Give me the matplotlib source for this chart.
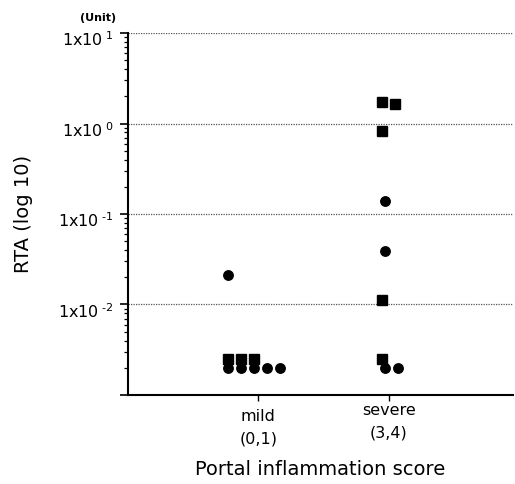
import numpy as np
import matplotlib
matplotlib.use("Agg")
import matplotlib.pyplot as plt
import matplotlib.transforms as mtrans
from matplotlib.ticker import FixedLocator, LogLocator, NullFormatter

# ---------------------------------------------------------------------------
# Daten
# ---------------------------------------------------------------------------
kategorien = ["mild\n(0,1)", "severe\n(3,4)"]
kat_pos = [1, 2]

mild_kreise = [0.021, 0.002, 0.002, 0.002, 0.002, 0.002]
mild_quadrate = [0.0025, 0.0025, 0.0025]
severe_kreise = [0.139, 0.0388, 0.002, 0.002]
severe_quadrate = [1.73, 1.64, 0.82, 0.0111, 0.0025]

y_ticks = [1e-3, 1e-2, 1e-1, 1e0, 1e1]
y_tick_labels = ["", r"1x10$^{\,\,\text{-}2}$", r"1x10$^{\,\,\text{-}1}$",
                 r"1x10$^{\,\,0}$", r"1x10$^{\,\,1}$"]


def _dodge(werte, mitte, start, schritt=0.1):
    """Gleiche Werte nebeneinander legen (Punkte nach rechts versetzt)."""
    xs = []
    for i, w in enumerate(werte):
        k = sum(1 for v in werte[:i] if abs(np.log10(v) - np.log10(w)) < 0.1)
        xs.append(mitte + start + k * schritt)
    return xs


fig = plt.figure(figsize=(5.15, 4.84), dpi=100)
ax = fig.add_axes([0.2476, 0.1839, 0.7485, 0.7479])

ax.set_yscale("log")
ax.set_ylim(1e-3, 1e1)
ax.set_xlim(0, 2.95)

for gitter in y_ticks[1:]:
    ax.axhline(gitter, color="#555555", linestyle=(0, (1, 1)), linewidth=0.9, zorder=1)

stil = dict(color="black", linestyle="none", zorder=3)
ax.plot(_dodge(mild_kreise, kat_pos[0], -0.23), mild_kreise, marker="o", markersize=6.8, **stil)
ax.plot(_dodge(mild_quadrate, kat_pos[0], -0.23), mild_quadrate, marker="s", markersize=6.5, **stil)
ax.plot(_dodge(severe_kreise, kat_pos[1], -0.03), severe_kreise, marker="o", markersize=6.8, **stil)
ax.plot(_dodge(severe_quadrate, kat_pos[1], -0.05), severe_quadrate, marker="s", markersize=6.5, **stil)

ax.yaxis.set_major_locator(FixedLocator(y_ticks))
ax.set_yticklabels(y_tick_labels, fontsize=11.5)
ax.yaxis.set_minor_locator(LogLocator(base=10, subs=np.arange(2, 10)))
ax.yaxis.set_minor_formatter(NullFormatter())
ax.tick_params(axis="y", which="major", direction="out", length=6, width=1.2, pad=4)
ax.tick_params(axis="y", which="minor", direction="out", length=3, width=0.9)

# Beschriftungen der y-Achse etwas unterhalb der Gitterlinie
runter = mtrans.ScaledTranslation(0, -4 / 72, fig.dpi_scale_trans)
for lbl in ax.get_yticklabels():
    lbl.set_transform(lbl.get_transform() + runter)

ax.set_xticks(kat_pos)
ax.set_xticklabels(kategorien, fontsize=11.5, linespacing=1.6)
ax.tick_params(axis="x", direction="out", length=4, width=1, pad=6)
hoch = mtrans.ScaledTranslation(0, 4 / 72, fig.dpi_scale_trans)
lbl_severe = ax.get_xticklabels()[1]
lbl_severe.set_transform(lbl_severe.get_transform() + hoch)

for s in ["top", "right"]:
    ax.spines[s].set_visible(False)
ax.spines["left"].set_linewidth(1.5)
ax.spines["bottom"].set_linewidth(1.5)

ax.set_ylabel("RTA (log 10)", fontsize=14, labelpad=18)
ax.set_xlabel("Portal inflammation score", fontsize=14, labelpad=10)
fig.text(0.155, 0.962, "(Unit)", fontsize=8, fontweight="bold", ha="left", va="center")

fig.savefig("out.png", dpi=100)
